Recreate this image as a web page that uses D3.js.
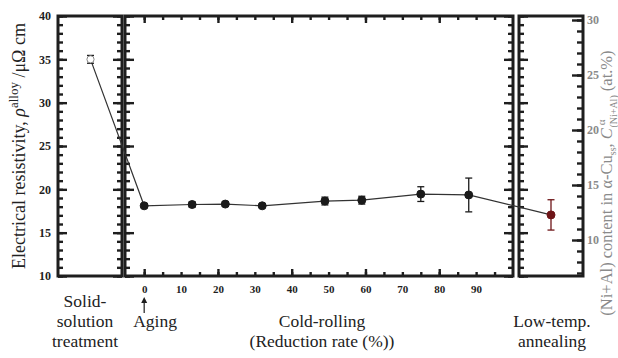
<!DOCTYPE html>
<html>
<head>
<meta charset="utf-8">
<script src="https://cdn.jsdelivr.net/npm/d3@7"></script>
<style>
body { margin: 0; background: #fff; }
text { font-family: "Liberation Serif", "Times New Roman", serif; }
</style>
</head>
<body>
<script>
var w = 618;
var h = 358;

// data
var stages = ["Solid-solution treatment", "Cold-rolling", "Low-temp. annealing"];
var solutionRho = [35.0];
var solutionErr = [0.45];
var rollRate = [0, 13, 22, 32, 49, 59, 75, 88];
var rollRho = [18.1, 18.25, 18.3, 18.1, 18.65, 18.75, 19.45, 19.35];
var rollErr = [0.2, 0.3, 0.25, 0.2, 0.45, 0.45, 0.85, 1.95];
var annealRho = [17.05];
var annealErr = [1.75];
var rateTicks = [0, 10, 20, 30, 40, 50, 60, 70, 80, 90];
var rhoTicks = [10, 15, 20, 25, 30, 35, 40];
var contentTicks = [10, 15, 20, 25, 30];

var plotTop = 16, plotBottom = 276;
var ink = "#1e1e1e";

var svg = d3.select("body")
  .append("svg")
  .attr("width", w)
  .attr("height", h);

// scales
var yRho = d3.scaleLinear().domain([10, 40]).range([plotBottom, plotTop]);
var yContent = d3.scaleLinear().domain([10, 30]).range([240, 20]);
var xLeft = d3.scaleBand().domain([stages[0]]).range([58, 123]);
var xMid = d3.scaleLinear().domain([-5.2, 100]).range([125, 513]);
var xRight = d3.scaleBand().domain([stages[2]]).range([519, 583]);

function styleAxis(g) {
  g.select(".domain").remove();
  g.selectAll(".tick line").attr("stroke", ink).attr("stroke-width", 2.4);
  g.selectAll(".tick text")
    .attr("fill", ink)
    .attr("font-family", "Liberation Serif, serif")
    .attr("font-weight", "bold")
    .attr("font-size", "12px");
}

function vAxis(fn, x, scale, lo, hi, majorVals, major, minor, labels) {
  var minorVals = d3.range(lo, hi + 0.001, 1);
  svg.append("g").attr("transform", "translate(" + x + ",0)")
    .call(fn(scale).tickValues(minorVals).tickSize(-minor).tickFormat(""))
    .call(styleAxis);
  var g = svg.append("g").attr("transform", "translate(" + x + ",0)")
    .call(fn(scale).tickValues(majorVals).tickSize(-major).tickPadding(7)
      .tickFormat(labels ? d3.format("d") : ""))
    .call(styleAxis);
  return g;
}

// y ticks on every spine
vAxis(d3.axisLeft, 58, yRho, 10, 40, rhoTicks, 9, 5, true);
vAxis(d3.axisRight, 122, yRho, 10, 40, rhoTicks, 9, 5, false);
vAxis(d3.axisLeft, 125, yRho, 10, 40, rhoTicks, 9, 5, false);
vAxis(d3.axisRight, 513, yRho, 10, 40, rhoTicks, 9, 5, false);
vAxis(d3.axisLeft, 519, yRho, 10, 40, rhoTicks, 9, 5, false);
var rightAx = vAxis(d3.axisRight, 583, yContent, 7, 30, contentTicks, 11, 6, true);
rightAx.selectAll(".tick text").attr("fill", "#8a8a8a").attr("x", 4);

// x ticks on the cold-rolling panel
[[d3.axisBottom, plotBottom], [d3.axisTop, plotTop]].forEach(function(a) {
  svg.append("g").attr("transform", "translate(0," + a[1] + ")")
    .call(a[0](xMid).tickValues(d3.range(0, 100, 5)).tickSize(-4).tickFormat(""))
    .call(styleAxis);
  svg.append("g").attr("transform", "translate(0," + a[1] + ")")
    .call(a[0](xMid).tickValues([0, 20, 40, 60, 80]).tickSize(-7).tickFormat(""))
    .call(styleAxis);
});
svg.append("g").attr("transform", "translate(0," + plotBottom + ")")
  .call(d3.axisBottom(xMid).tickValues(rateTicks).tickSize(0).tickPadding(9))
  .call(styleAxis)
  .selectAll(".tick text").attr("font-size", "11px");

// panel frames
[[58, 122], [125, 513], [519, 583]].forEach(function(p) {
  svg.append("rect")
    .attr("x", p[0]).attr("y", plotTop)
    .attr("width", p[1] - p[0]).attr("height", plotBottom - plotTop)
    .attr("fill", "none").attr("stroke", ink).attr("stroke-width", 3);
});

// points in pixel space, one line through all stages
var pts = [];
pts.push({x: xLeft(stages[0]) + xLeft.bandwidth() / 2, v: solutionRho[0], e: solutionErr[0], kind: "open"});
rollRate.forEach(function(r, i) {
  pts.push({x: xMid(r), v: rollRho[i], e: rollErr[i], kind: "roll"});
});
pts.push({x: xRight(stages[2]) + xRight.bandwidth() / 2, v: annealRho[0], e: annealErr[0], kind: "anneal"});

svg.append("path")
  .datum(pts)
  .attr("fill", "none")
  .attr("stroke", "#333")
  .attr("stroke-width", 1.2)
  .attr("d", d3.line().x(function(d) { return d.x; }).y(function(d) { return yRho(d.v); }));

function colour(d) { return d.kind === "anneal" ? "#6e1518" : "#1a1a1a"; }

var bars = svg.selectAll("g.err")
  .data(pts)
  .enter()
  .append("g")
  .attr("class", "err");
bars.append("line")
  .attr("x1", function(d) { return d.x; })
  .attr("x2", function(d) { return d.x; })
  .attr("y1", function(d) { return yRho(d.v - d.e); })
  .attr("y2", function(d) { return yRho(d.v + d.e); })
  .attr("stroke", colour).attr("stroke-width", 1.3);
[-1, 1].forEach(function(s) {
  bars.append("line")
    .attr("x1", function(d) { return d.x - 3.5; })
    .attr("x2", function(d) { return d.x + 3.5; })
    .attr("y1", function(d) { return yRho(d.v + s * d.e); })
    .attr("y2", function(d) { return yRho(d.v + s * d.e); })
    .attr("stroke", colour).attr("stroke-width", 1.3);
});

svg.selectAll("circle.pt")
  .data(pts)
  .enter()
  .append("circle")
  .attr("class", "pt")
  .attr("cx", function(d) { return d.x; })
  .attr("cy", function(d) { return yRho(d.v); })
  .attr("r", function(d) { return d.kind === "open" ? 3.6 : 4; })
  .attr("fill", function(d) { return d.kind === "open" ? "#fff" : colour(d); })
  .attr("stroke", function(d) { return d.kind === "open" ? "#888" : colour(d); })
  .attr("stroke-width", 1);

// axis titles
var yl = svg.append("text")
  .attr("transform", "translate(25,146) rotate(-90)")
  .attr("text-anchor", "middle")
  .attr("font-size", "18px")
  .attr("fill", "#222");
yl.append("tspan").text("Electrical resistivity, ");
yl.append("tspan").attr("font-style", "italic").text("ρ");
yl.append("tspan").attr("font-size", "13px").attr("dy", -7).text("alloy");
yl.append("tspan").attr("dy", 7).text(" /μΩ cm");

var yr = svg.append("text")
  .attr("transform", "translate(612,183) rotate(-90)")
  .attr("text-anchor", "middle")
  .attr("font-size", "16.5px")
  .attr("fill", "#8a8a8a");
yr.append("tspan").text("(Ni+Al) content in α-Cu");
yr.append("tspan").attr("font-size", "10px").attr("dy", 4).text("ss");
yr.append("tspan").attr("dy", -4).text(", ");
yr.append("tspan").attr("font-style", "italic").text("C");
yr.append("tspan").attr("font-size", "11px").attr("dy", -7).text(" α");
yr.append("tspan").attr("font-size", "10px").attr("dx", -8).attr("dy", 12).text("(Ni+Al)");
yr.append("tspan").attr("dy", -5).text(" (at.%)");

// stage labels
var labels = [
  {x: 85, lines: ["Solid-", "solution", "treatment"], y0: 307},
  {x: 155, lines: ["Aging"], y0: 327},
  {x: 322, lines: ["Cold-rolling", "(Reduction rate (%))"], y0: 327},
  {x: 552, lines: ["Low-temp.", "annealing"], y0: 327}
];
labels.forEach(function(l) {
  l.lines.forEach(function(t, i) {
    svg.append("text")
      .attr("x", l.x).attr("y", l.y0 + i * 20)
      .attr("text-anchor", "middle")
      .attr("font-size", "17.5px")
      .attr("fill", "#222")
      .text(t);
  });
});

// arrow marking aging at 0 %
svg.append("line")
  .attr("x1", xMid(0)).attr("x2", xMid(0))
  .attr("y1", 313).attr("y2", 301)
  .attr("stroke", ink).attr("stroke-width", 1.2);
svg.append("path")
  .attr("d", "M" + (xMid(0) - 3) + ",303 L" + xMid(0) + ",297 L" + (xMid(0) + 3) + ",303 Z")
  .attr("fill", ink);
</script>
</body>
</html>
